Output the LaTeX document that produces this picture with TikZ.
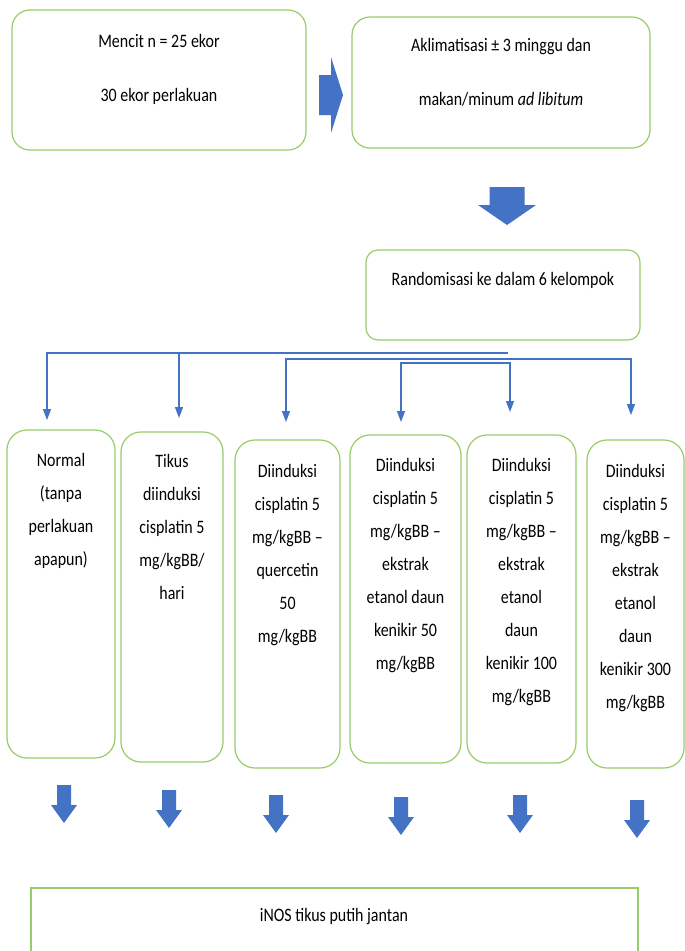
\documentclass[tikz,border=0pt]{standalone}
\usepackage{fontspec}
\setmainfont{Carlito}[FakeStretch=0.84]
\usetikzlibrary{arrows.meta}
\definecolor{boxgreen}{RGB}{150,205,105}
\definecolor{arrowblue}{RGB}{68,114,196}
\begin{document}
\begin{tikzpicture}[x=1pt,y=-1pt,
  box/.style={draw=boxgreen, line width=1.2pt, rounded corners=18pt, inner sep=0pt},
  lbl/.style={font=\fontsize{19}{33}\selectfont, align=center, inner sep=0pt, anchor=north},
  conn/.style={draw=arrowblue, line width=1.2pt, -{Triangle[length=11pt,width=8pt]}},
  conntwo/.style={draw=arrowblue, line width=1.2pt, {Triangle[length=11pt,width=8pt]}-{Triangle[length=11pt,width=8pt]}},
  smalldown/.pic={\fill[arrowblue] (-7,0) -- (-7,20) -- (-13,20) -- (0,38) -- (13,20) -- (7,20) -- (7,0) -- cycle;},
  bigdown/.pic={\fill[arrowblue] (-17.5,0) -- (-17.5,18) -- (-29,18) -- (0,38) -- (29,18) -- (17.5,18) -- (17.5,0) -- cycle;}
]
\useasboundingbox (0,0) rectangle (685,951);
\clip (0,0) rectangle (685,951);
\fill[white] (0,0) rectangle (685,951);

% top boxes
\node[box, minimum width=294pt, minimum height=140pt] (start) at (159,80) {};
\node[lbl, font=\fontsize{19}{54}\selectfont] (starttxt) at (159,34) {Mencit n = 25 ekor\\30 ekor perlakuan};
\node[box, minimum width=298pt, minimum height=131pt] (aklim) at (501,82.5) {};
\node[lbl, font=\fontsize{19}{54}\selectfont] (aklimtxt) at (501,38) {Aklimatisasi ± 3 minggu dan\\makan/minum \textit{ad libitum}};

% right block arrow
\fill[arrowblue] (319,75) -- (331,75) -- (331,57) -- (343,95) -- (331,133) -- (331,115) -- (319,115) -- cycle;
% big down arrow
\pic at (507,187) {bigdown};

% randomisation box
\node[box, rounded corners=12pt, minimum width=274pt, minimum height=90pt] (rand) at (503,295) {};
\node[lbl] (randtxt) at (503,272) {Randomisasi ke dalam 6 kelompok};

% six group boxes
\node[box, rounded corners=20pt, minimum width=108pt, minimum height=328pt] (g1) at (61,594) {};
\node[box, rounded corners=20pt, minimum width=102pt, minimum height=330pt] (g2) at (172,597) {};
\node[box, rounded corners=20pt, minimum width=105pt, minimum height=328pt] (g3) at (287.5,604) {};
\node[box, rounded corners=20pt, minimum width=111pt, minimum height=328pt] (g4) at (405.5,599) {};
\node[box, rounded corners=20pt, minimum width=109pt, minimum height=328pt] (g5) at (521.5,599) {};
\node[box, rounded corners=20pt, minimum width=97pt, minimum height=328pt] (g6) at (635.5,604) {};

\node[lbl] (g1txt) at (61,453) {Normal\\(tanpa\\perlakuan\\apapun)};
\node[lbl] (g2txt) at (172,454) {Tikus\\diinduksi\\cisplatin 5\\mg/kgBB/\\hari};
\node[lbl] (g3txt) at (287.5,464) {Diinduksi\\cisplatin 5\\mg/kgBB –\\quercetin\\50\\mg/kgBB};
\node[lbl] (g4txt) at (405.5,458) {Diinduksi\\cisplatin 5\\mg/kgBB –\\ekstrak\\etanol daun\\kenikir 50\\mg/kgBB};
\node[lbl] (g5txt) at (521.5,458) {Diinduksi\\cisplatin 5\\mg/kgBB –\\ekstrak\\etanol\\daun\\kenikir 100\\mg/kgBB};
\node[lbl] (g6txt) at (635.5,464) {Diinduksi\\cisplatin 5\\mg/kgBB –\\ekstrak\\etanol\\daun\\kenikir 300\\mg/kgBB};

% connectors
\coordinate (h1) at (508,353);
\coordinate (h2) at (631,359);
\coordinate (h3) at (510,363);
\coordinate (t1) at (47,420);
\coordinate (t2) at (179,418);
\coordinate (t3) at (286,422);
\coordinate (t4) at (401,422);
\coordinate (t5) at (510,412);
\coordinate (t6) at (631,415);
\draw[conn] (h1) -| (t1);
\draw[conn] (h1 -| t2) -- (t2);
\draw[conntwo] (t3) |- (h2) -- (t6);
\draw[conntwo] (t4) |- (h3) -- (t5);

% bottom arrows
\pic at (64,785) {smalldown};
\pic at (169,790) {smalldown};
\pic at (276,795) {smalldown};
\pic at (401,797) {smalldown};
\pic at (520,795) {smalldown};
\pic at (637,800) {smalldown};

% result box
\node[draw=boxgreen, line width=1.2pt, inner sep=0pt, minimum width=607pt, minimum height=82pt] (result) at (334.5,929) {};
\node[lbl] (resulttxt) at (334,908) {iNOS tikus putih jantan};
\end{tikzpicture}
\end{document}
